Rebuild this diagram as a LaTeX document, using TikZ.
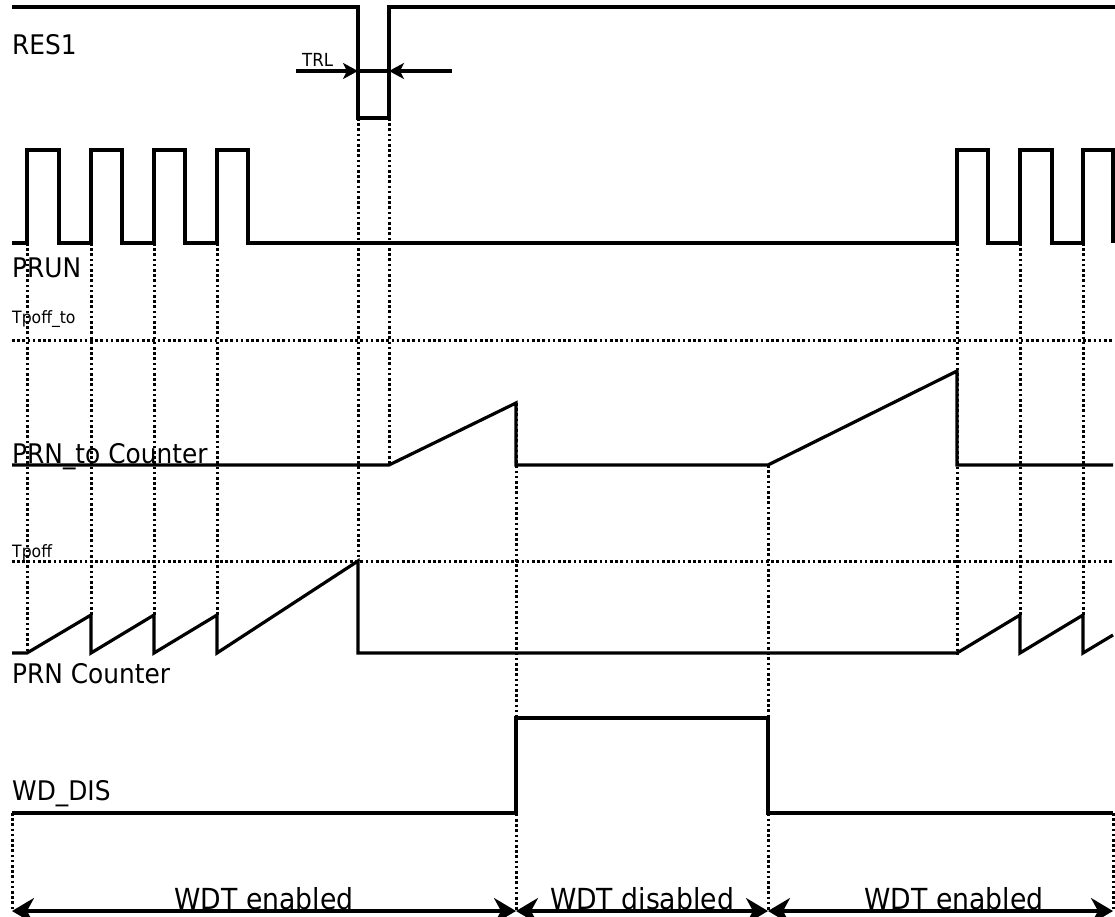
\documentclass[tikz,border=0pt]{standalone}
\usepackage{fontspec}
\setmainfont{DejaVu Sans}[FakeStretch=0.92]
\usetikzlibrary{arrows.meta}

\tikzset{
  wave/.style={line width=3.2pt, line join=miter},
  guide/.style={line width=3pt, dash pattern=on 2.6pt off 2.6pt},
  siglbl/.style={anchor=base west, inner sep=0pt, font=\fontsize{27}{32}\selectfont},
  lvllbl/.style={anchor=base west, inner sep=0pt, font=\fontsize{17}{20}\selectfont},
  spanlbl/.style={anchor=base, inner sep=0pt, font=\fontsize{29}{34}\selectfont},
  span/.style={line width=3.2pt, {Stealth[length=22pt,width=26pt,inset=7pt]}-{Stealth[length=22pt,width=26pt,inset=7pt]}},
  trl/.style={line width=3.2pt, -{Stealth[length=15pt,width=16pt,inset=4pt]}}
}

\begin{document}
\begin{tikzpicture}[x=1pt,y=-1pt]
  \useasboundingbox (0,0) rectangle (1115,917);

  % threshold levels
  \draw[guide] (12,340) -- (1113,340);
  \draw[guide] (12,561) -- (1113,561);

  % edge markers
  \draw[guide] (27,243) -- (27,653);
  \foreach \t in {91,154,217,1020,1083}
    \draw[guide] (\t,243) -- (\t,615);
  \draw[guide] (358,118) -- (358,561);
  \draw[guide] (389,118) -- (389,465);
  \draw[guide] (957,243) -- (957,655);
  \draw[guide] (516,403) -- (516,911);
  \draw[guide] (768,465) -- (768,911);
  \foreach \t in {12,1113}
    \draw[guide] (\t,813) -- (\t,911);

  % RES1
  \draw[wave] (12,7) -- (358,7) -- (358,118) -- (389,118) -- (389,7) -- (1115,7);
  \node[siglbl] (res) at (12,55) {RES1};
  \draw[trl] (296,71) -- (358,71);
  \draw[trl] (452,71) -- (389,71);
  \draw[line width=3.2pt] (358,71) -- (389,71);
  \node[lvllbl, font=\fontsize{18}{21}\selectfont] (trllbl) at (302,67) {TRL};

  % PRUN
  \draw[wave] (12,243) -- (27,243) -- (27,150) -- (59,150) -- (59,243)
    -- (91,243) -- (91,150) -- (122,150) -- (122,243)
    -- (154,243) -- (154,150) -- (185,150) -- (185,243)
    -- (217,243) -- (217,150) -- (248,150) -- (248,243)
    -- (957,243) -- (957,150) -- (988,150) -- (988,243)
    -- (1020,243) -- (1020,150) -- (1052,150) -- (1052,243)
    -- (1083,243) -- (1083,150) -- (1113,150) -- (1113,243);
  \node[siglbl] (prun) at (12,277) {PRUN};
  \node[lvllbl] (tpoffto) at (12,323) {Tpoff\_to};

  % PRN_to Counter
  \draw[wave] (12,465) -- (389,465) -- (516,403) -- (516,465) -- (768,465)
    -- (957,371) -- (957,465) -- (1113,465);
  \node[siglbl] (prnto) at (12,463) {PRN\_to Counter};
  \node[lvllbl] (tpoff) at (12,557) {Tpoff};

  % PRN Counter
  \draw[wave] (12,653) -- (27,653) -- (91,615) -- (91,653) -- (154,615) -- (154,653)
    -- (217,615) -- (217,653) -- (358,561) -- (358,653) -- (957,653)
    -- (1020,615) -- (1020,653) -- (1083,615) -- (1083,653) -- (1113,635);
  \node[siglbl] (prn) at (12,683) {PRN Counter};

  % WD_DIS
  \draw[wave] (12,813) -- (516,813) -- (516,718) -- (768,718) -- (768,813) -- (1113,813);
  \node[siglbl] (wddis) at (12,800) {WD\_DIS};

  % watchdog phases
  \coordinate (ph0) at (12,911);
  \coordinate (ph1) at (516,911);
  \coordinate (ph2) at (768,911);
  \coordinate (ph3) at (1113,911);
  \draw[span] (ph0) -- (ph1);
  \draw[span] (ph1) -- (ph2);
  \draw[span] (ph2) -- (ph3);
  \node[spanlbl] (en1) at (264,909) {WDT enabled};
  \node[spanlbl] (dis) at (642,909) {WDT disabled};
  \node[spanlbl] (en2) at (954,909) {WDT enabled};
\end{tikzpicture}
\end{document}
